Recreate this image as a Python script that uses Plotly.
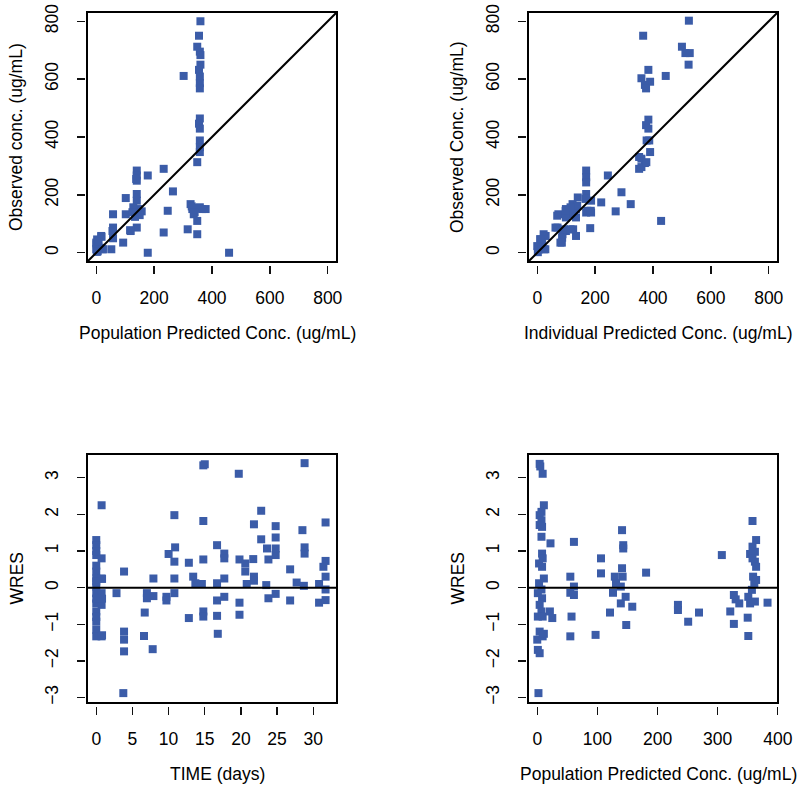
import plotly.graph_objects as go

# ---------------- data ----------------
# Panel 1: population predicted vs observed
p1_pred = [360, 355, 349, 358, 360, 360, 355, 358, 358, 358, 302, 358, 355, 358, 358, 358, 358, 349,
           233, 140, 140, 140, 178, 140, 140, 102, 265, 145, 157, 128, 134, 102, 58, 58, 56, 58, 247,
           326, 332, 337, 349, 358, 366, 378, 349, 316, 233, 140, 119, 93, 52, 17, 3, 12, 2, 178, 459,
           0, 23, 0, 1, 5, 18, 330, 355, 340, 150, 125, 8, 138, 117, 22]
p1_obs = [800, 750, 712, 695, 683, 650, 632, 609, 586, 568, 611, 464, 446, 429, 388, 365, 348, 313,
          290, 284, 267, 249, 267, 203, 180, 189, 212, 151, 143, 157, 124, 133, 133, 87, 75, 50, 145,
          168, 151, 133, 110, 157, 151, 151, 64, 81, 70, 87, 75, 35, 12, 58, 46, 17, 3, 0, 0,
          35, 12, 12, 29, 5, 55, 160, 155, 140, 130, 140, 40, 255, 78, 12]

# Panel 2: individual predicted vs observed
p2_ipred = [524, 366, 500, 512, 527, 523, 444, 360, 384, 390, 372, 376, 384, 376, 384, 378, 387, 390,
            352, 352, 372, 169, 169, 169, 244, 291, 323, 221, 271, 428, 186, 169, 186, 169, 140, 134,
            122, 99, 73, 113, 134, 99, 70, 99, 124, 183, 134, 87, 85, 29, 17, 6, 23, 2, 12, 167, 138,
            115, 98, 69, 127, 173, 185, 63, 92, 115, 86, 80, 22, 10, 0, 16, 28, 360, 360, 377]
p2_obs = [802, 750, 712, 690, 690, 650, 611, 603, 632, 591, 580, 568, 460, 441, 429, 388, 388, 348,
          331, 290, 310, 284, 261, 243, 267, 209, 168, 174, 143, 110, 180, 203, 139, 139, 191, 151,
          168, 151, 133, 133, 122, 122, 87, 75, 81, 85, 58, 64, 35, 58, 35, 12, 12, 2, 46, 186, 162,
          157, 145, 128, 134, 145, 145, 87, 81, 81, 52, 35, 64, 47, 23, 17, 12, 325, 296, 313]

# Panel 3: time vs WRES
p3_time = [14.8, 15.0, 19.7, 28.8, 0.74, 10.8, 14.8, 22.8, 21.8, 24.8, 28.5, 31.7, 22.8, 24.8, 23.6,
           28.8, 28.8, 24.8, 24.8, 16.7, 17.7, 17.7, 10.9, 10.0, 10.8, 12.8, 14.8, 19.8, 20.6, 20.6,
           21.7, 23.8, 26.8, 31.7, 31.4, 0, 0, 0, 0.74, 0, 3.84, 0, 0.74, 7.9, 10.8, 13.4, 13.7, 14.6,
           16.7, 17.7, 21.8, 21.8, 20.8, 23.5, 27.7, 28.7, 30.8, 31.7, 31.7, 0, 0, 2.8, 0.74, 7.0, 7.9,
           7.0, 9.7, 9.7, 10.8, 16.7, 17.7, 19.8, 23.8, 24.8, 26.8, 30.8, 31.7, 0, 0.74, 0, 6.7, 12.8,
           14.8, 14.8, 16.7, 19.8, 0, 0, 0, 0.74, 3.84, 3.84, 3.84, 6.6, 7.8, 16.8, 3.74,
           0, 0, 0, 0.8, 0.8, 0, 0, 0.8]
p3_wres = [3.34, 3.37, 3.11, 3.40, 2.25, 1.98, 1.82, 2.10, 1.73, 1.68, 1.57, 1.78, 1.32, 1.37, 1.07,
           1.10, 0.93, 0.89, 1.07, 1.16, 0.93, 0.80, 1.10, 0.92, 0.71, 0.68, 0.77, 0.77, 0.66, 0.44,
           0.78, 0.77, 0.50, 0.73, 0.57, 1.30, 1.16, 0.89, 0.80, 0.44, 0.44, 0.25, 0.25, 0.25, 0.25,
           0.30, 0.12, 0.10, 0.12, 0.25, 0.30, 0.19, 0.10, 0.07, 0.14, 0.05, 0.10, 0.30, -0.05, 0.03,
           -0.15, -0.15, -0.15, -0.15, -0.23, -0.29, -0.25, -0.35, -0.15, -0.35, -0.25, -0.41, -0.29,
           -0.17, -0.35, -0.41, -0.34, -0.43, -0.47, -0.65, -0.68, -0.83, -0.65, -0.79, -0.77, -0.74,
           -0.93, -1.15, -1.33, -1.33, -1.20, -1.42, -1.74, -1.32, -1.68, -1.26, -2.88,
           0.60, -0.30, -0.80, -0.30, -1.30, 1.00, 0.17, 0.24]

# Panel 4: population predicted vs WRES
p4_pred = [4, 5, 9, 11, 7, 4, 7, 4, 8, 7, 22, 61, 141, 143, 143, 106, 106, 181, 307, 358, 364, 358,
           362, 354, 362, 364, 358, 8, 9, 3, 8, 11, 3, 7, 1, 8, 4, 7, 1, 9, 21, 25, 55, 55, 61, 61, 57,
           55, 97, 121, 129, 131, 126, 139, 141, 142, 139, 147, 158, 148, 234, 234, 251, 269, 321, 327,
           327, 330, 336, 350, 351, 351, 354, 359, 361, 357, 362, 383, 364, 1, 4, 0, 4, 9, 11, 2]
p4_wres = [3.38, 3.31, 3.11, 2.25, 2.07, 1.98, 1.84, 1.71, 1.66, 1.39, 1.21, 1.25, 1.57, 1.16, 1.07,
           0.80, 0.39, 0.41, 0.89, 1.82, 1.30, 1.12, 0.98, 0.92, 0.71, 0.57, 0.80, 0.93, 0.80, 0.66,
           0.57, 0.25, 0.12, -0.05, -0.15, -0.29, -0.47, -0.65, -0.79, -0.79, -0.65, -0.83, 0.30,
           -0.14, 0.03, -0.20, -0.79, -1.33, -1.29, -0.68, 0.30, 0.12, -0.14, 0.03, 0.53, 0.30, -0.43,
           -0.25, -0.52, -1.02, -0.47, -0.61, -0.93, -0.68, -0.65, -0.99, -0.20, -0.32, -0.43, -0.82,
           -1.32, -0.25, -0.43, 0.30, 0.12, -0.06, -0.38, -0.41, 0.21, -1.70, -1.79, -1.42, -1.20,
           -1.33, -1.26, -2.88]

conc_ticks = [0, 200, 400, 600, 800]
wres_ticks = [-3, -2, -1, 0, 1, 2, 3]
time_ticks = [0, 5, 10, 15, 20, 25, 30]
pred_ticks = [0, 100, 200, 300, 400]

# ---------------- styling ----------------
W, H = 800, 794
BLUE = "#3b5ca8"
FONT = "Liberation Sans, Arial, Helvetica, sans-serif"
TXT = "#000000"
FS = 17.5

def px_x(p):
    return p / W

def px_y(p):
    return 1 - p / H

# panel boxes in pixels (left, right, top, bottom)
boxes = {
    1: (87, 337, 12, 262),
    2: (528, 778, 12, 262),
    3: (87, 337, 454, 703),
    4: (528, 778, 454, 703),
}
ranges = {
    1: ([-32, 832], [-32, 832]),
    2: ([-32, 832], [-32, 832]),
    3: ([-1.28, 33.28], [-3.15, 3.65]),
    4: ([-15.4, 400.4], [-3.15, 3.65]),
}
xticks = {1: conc_ticks, 2: conc_ticks, 3: time_ticks, 4: pred_ticks}
yticks = {1: conc_ticks, 2: conc_ticks, 3: wres_ticks, 4: wres_ticks}
xtitles = {1: "Population Predicted Conc. (ug/mL)", 2: "Individual Predicted Conc. (ug/mL)",
           3: "TIME (days)", 4: "Population Predicted Conc. (ug/mL)"}
ytitles = {1: "Observed conc. (ug/mL)", 2: "Observed Conc. (ug/mL)", 3: "WRES", 4: "WRES"}
data = {1: (p1_pred, p1_obs), 2: (p2_ipred, p2_obs), 3: (p3_time, p3_wres), 4: (p4_pred, p4_wres)}

fig = go.Figure()
layout = dict(
    width=W, height=H, margin=dict(l=0, r=0, t=0, b=0, autoexpand=False),
    paper_bgcolor="white", plot_bgcolor="white", showlegend=False,
    font=dict(family=FONT, size=FS, color=TXT),
)
shapes = []
annotations = []

for i in range(1, 5):
    l, r, t, b = boxes[i]
    xa = "xaxis" if i == 1 else f"xaxis{i}"
    ya = "yaxis" if i == 1 else f"yaxis{i}"
    xr = "x" if i == 1 else f"x{i}"
    yr = "y" if i == 1 else f"y{i}"
    xrng, yrng = ranges[i]
    common = dict(showgrid=False, zeroline=False, showline=False, ticks="outside",
                  ticklen=8, tickwidth=1.4, tickcolor="#111", anchor="free", automargin=False,
                  tickfont=dict(family=FONT, size=FS, color=TXT))
    layout[xa] = dict(common, domain=[px_x(l), px_x(r)], range=xrng,
                      tickvals=xticks[i], position=px_y(b + 3), ticklabelstandoff=9)
    layout[ya] = dict(common, domain=[px_y(b), px_y(t)], range=yrng,
                      tickvals=yticks[i], position=px_x(l - 2), tickangle=-90,
                      ticklabelstandoff=12)
    # scatter points
    xs, ys = data[i]
    fig.add_trace(go.Scatter(x=xs, y=ys, mode="markers", xaxis=xr, yaxis=yr,
                             marker=dict(symbol="square", size=8, color=BLUE),
                             cliponaxis=False, hoverinfo="skip"))
    # reference line
    if i in (1, 2):
        shapes.append(dict(type="line", xref=xr, yref=yr, x0=xrng[0], y0=yrng[0],
                           x1=xrng[1], y1=yrng[1], line=dict(color="black", width=2)))
    else:
        shapes.append(dict(type="line", xref=f"{xr} domain", yref=yr, x0=0, x1=1, y0=0, y1=0,
                           line=dict(color="black", width=2)))
    # box
    shapes.append(dict(type="rect", xref=f"{xr} domain", yref=f"{yr} domain", x0=0, x1=1, y0=0, y1=1,
                       line=dict(color="black", width=2), fillcolor="rgba(0,0,0,0)"))
    # axis titles
    annotations.append(dict(text=xtitles[i], xref="paper", yref="paper",
                            x=px_x((l + r) / 2 + 5), y=px_y(b + 71), xanchor="center", yanchor="middle",
                            showarrow=False, font=dict(family=FONT, size=FS, color=TXT)))
    annotations.append(dict(text=ytitles[i], xref="paper", yref="paper", textangle=-90,
                            x=px_x(l - 71), y=px_y((t + b) / 2), xanchor="center", yanchor="middle",
                            showarrow=False, font=dict(family=FONT, size=FS, color=TXT)))

layout["shapes"] = shapes
layout["annotations"] = annotations
fig.update_layout(**layout)
fig.write_html("out.html", config={"displayModeBar": False, "staticPlot": True})

# remove the default page margin so the figure sits at the window's top-left corner
with open("out.html", "r", encoding="utf-8") as f:
    html = f.read()
html = html.replace("<head>", "<head><style>html,body{margin:0;padding:0;overflow:hidden;}</style>", 1)
with open("out.html", "w", encoding="utf-8") as f:
    f.write(html)
